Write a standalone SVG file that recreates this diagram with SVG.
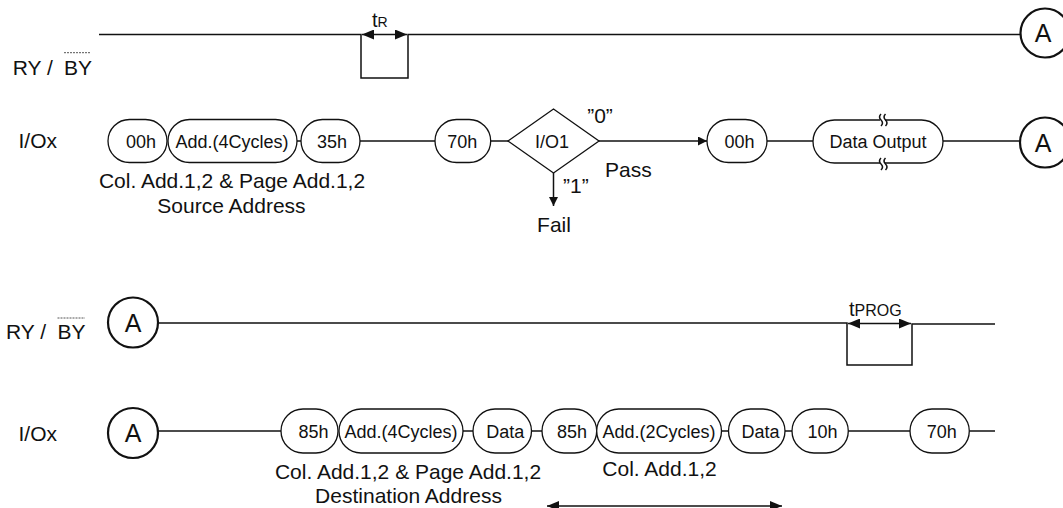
<svg xmlns="http://www.w3.org/2000/svg" width="1063" height="508" viewBox="0 0 1063 508">
<style>
text{font-family:"Liberation Sans",Arial,sans-serif;fill:#111}
.lbl{font-size:21px}
.pt{font-size:18px;text-anchor:middle}
.ct{font-size:25px;text-anchor:middle}
.mid{text-anchor:middle}
.pill{fill:#fff;stroke:#111;stroke-width:1.3}
.circ{fill:#fff;stroke:#111;stroke-width:2.2}
.ln{fill:none;stroke:#111;stroke-width:1.5}
.ov{stroke:#555;stroke-width:1;stroke-dasharray:2,1}
</style>
<defs>
<marker id="ah" viewBox="0 0 10 10" refX="10" refY="5" markerWidth="10" markerHeight="9" markerUnits="userSpaceOnUse" orient="auto-start-reverse">
<path d="M0,0 L10,5 L0,10 z" fill="#111"/>
</marker>
<marker id="ah2" viewBox="0 0 12 10" refX="12" refY="5" markerWidth="13" markerHeight="10" markerUnits="userSpaceOnUse" orient="auto-start-reverse">
<path d="M0,0 L12,5 L0,10 z" fill="#111"/>
</marker>
</defs>

<!-- signal labels -->
<g id="labels">
<text class="lbl" x="12.7" y="75">RY /<tspan x="64">BY</tspan></text>
<line class="ov" x1="64" y1="52.7" x2="91" y2="52.7"/>
<text class="lbl" x="18.5" y="148.3">I/Ox</text>
<text class="lbl" x="6" y="339">RY /<tspan x="57.5">BY</tspan></text>
<line class="ov" x1="57.5" y1="318" x2="85" y2="318"/>
<text class="lbl" x="18.5" y="441">I/Ox</text>
</g>

<!-- connectors / waveforms -->
<g id="connectors">
<!-- top RY/BY -->
<polyline class="ln" points="99,34.5 361,34.5 361,78 408,78 408,34.5 1020,34.5"/>
<line class="ln" x1="362" y1="34.5" x2="407" y2="34.5" marker-start="url(#ah2)" marker-end="url(#ah2)"/>
<!-- top I/O -->
<line class="ln" x1="297" y1="141" x2="301" y2="141"/>
<line class="ln" x1="360" y1="141" x2="435" y2="141"/>
<line class="ln" x1="490.7" y1="141" x2="508" y2="141"/>
<line class="ln" x1="599" y1="141" x2="707" y2="141" marker-end="url(#ah)"/>
<line class="ln" x1="553.5" y1="173" x2="553.5" y2="206" marker-end="url(#ah)"/>
<line class="ln" x1="767" y1="141" x2="813" y2="141"/>
<line class="ln" x1="943" y1="141" x2="1020" y2="141"/>
<!-- bottom RY/BY -->
<polyline class="ln" points="158,323 847,323 847,365 912,365 912,324 995,324"/>
<line class="ln" x1="848" y1="323.5" x2="911" y2="323.5" marker-start="url(#ah2)" marker-end="url(#ah2)"/>
<!-- bottom I/O -->
<line class="ln" x1="158" y1="431" x2="281" y2="431"/>
<line class="ln" x1="463" y1="431" x2="473" y2="431"/>
<line class="ln" x1="531.5" y1="431" x2="542" y2="431"/>
<line class="ln" x1="721.5" y1="431" x2="728.5" y2="431"/>
<line class="ln" x1="785" y1="431" x2="792" y2="431"/>
<line class="ln" x1="848.3" y1="431" x2="910" y2="431"/>
<line class="ln" x1="969.3" y1="431" x2="995" y2="431"/>
<!-- span arrow -->
<line class="ln" x1="547" y1="506" x2="782" y2="506" marker-start="url(#ah2)" marker-end="url(#ah2)"/>
</g>

<!-- timing labels -->
<g id="timing">
<text x="372" y="27" font-size="20">t<tspan font-size="14">R</tspan></text>
<text x="849" y="316" font-size="20">t<tspan font-size="16">PROG</tspan></text>
</g>

<!-- top row nodes -->
<g id="n_00h_a"><rect class="pill" x="108" y="119.5" width="59" height="43" rx="21.5"/><text class="pt" x="141" y="148">00h</text></g>
<g id="n_add4_a"><rect class="pill" x="168" y="119.5" width="129" height="43" rx="21.5"/><text class="pt" x="232" y="148">Add.(4Cycles)</text></g>
<g id="n_35h"><rect class="pill" x="301" y="119.5" width="59" height="43" rx="21.5"/><text class="pt" x="332" y="148">35h</text></g>
<g id="n_70h_a"><rect class="pill" x="435" y="119.5" width="55.7" height="43" rx="21.5"/><text class="pt" x="462.3" y="148">70h</text></g>
<g id="n_io1"><polygon class="pill" points="508,141 553.5,109 599,141 553.5,173"/><text class="pt" x="552" y="148">I/O1</text></g>
<g id="n_00h_b"><rect class="pill" x="707" y="119.5" width="60" height="43" rx="21.5"/><text class="pt" x="739.5" y="148">00h</text></g>
<g id="n_dataout"><rect class="pill" x="813" y="120" width="130" height="43" rx="21.5"/><text class="pt" x="878" y="148">Data Output</text>
<rect x="880" y="115" width="5" height="12" fill="#fff"/><rect x="880" y="157" width="5" height="14" fill="#fff"/>
<path class="ln" stroke-width="1.1" d="M881,114 q-3,3 0,6 q3,3 0,6 M885.5,114 q-3,3 0,6 q3,3 0,6 M881,158 q-3,3 0,6 q3,3 0,6 M885.5,158 q-3,3 0,6 q3,3 0,6"/></g>
<g id="n_A1"><circle class="circ" cx="1045" cy="33" r="24.5"/><text class="ct" x="1043" y="42">A</text></g>
<g id="n_A2"><circle class="circ" cx="1045" cy="142.5" r="25"/><text class="ct" x="1043" y="151.5">A</text></g>

<g id="top_texts">
<text class="lbl mid" x="600" y="123">”0”</text>
<text class="lbl" x="605" y="177">Pass</text>
<text class="lbl" x="563" y="193">”1”</text>
<text class="lbl mid" x="554" y="231.5">Fail</text>
<text class="lbl mid" x="232" y="187.7">Col. Add.1,2 &amp; Page Add.1,2</text>
<text class="lbl mid" x="231.5" y="212.7">Source Address</text>
</g>

<!-- bottom nodes -->
<g id="n_A3"><circle class="circ" cx="133" cy="322.5" r="25"/><text class="ct" x="133" y="331.5">A</text></g>
<g id="n_A4"><circle class="circ" cx="133" cy="433" r="25"/><text class="ct" x="133" y="442">A</text></g>
<g id="n_85h_a"><rect class="pill" x="281" y="409" width="57" height="44" rx="22"/><text class="pt" x="313.5" y="438">85h</text></g>
<g id="n_add4_b"><rect class="pill" x="339" y="409" width="124" height="44" rx="22"/><text class="pt" x="401" y="438">Add.(4Cycles)</text></g>
<g id="n_data_a"><rect class="pill" x="473" y="409" width="58.5" height="44" rx="22"/><text class="pt" x="505.3" y="438">Data</text></g>
<g id="n_85h_b"><rect class="pill" x="542" y="409" width="54.7" height="44" rx="22"/><text class="pt" x="572" y="438">85h</text></g>
<g id="n_add2"><rect class="pill" x="596.7" y="409" width="124.8" height="44" rx="22"/><text class="pt" x="659" y="438">Add.(2Cycles)</text></g>
<g id="n_data_b"><rect class="pill" x="728.5" y="409" width="56.5" height="44" rx="22"/><text class="pt" x="760.5" y="438">Data</text></g>
<g id="n_10h"><rect class="pill" x="792" y="409" width="56.3" height="44" rx="22"/><text class="pt" x="822.5" y="438">10h</text></g>
<g id="n_70h_b"><rect class="pill" x="910" y="409" width="59.3" height="44" rx="22"/><text class="pt" x="941.7" y="438">70h</text></g>

<g id="bottom_texts">
<text class="lbl mid" x="408" y="479">Col. Add.1,2 &amp; Page Add.1,2</text>
<text class="lbl mid" x="408.5" y="503">Destination Address</text>
<text class="lbl mid" x="659.5" y="476">Col. Add.1,2</text>
</g>
</svg>
